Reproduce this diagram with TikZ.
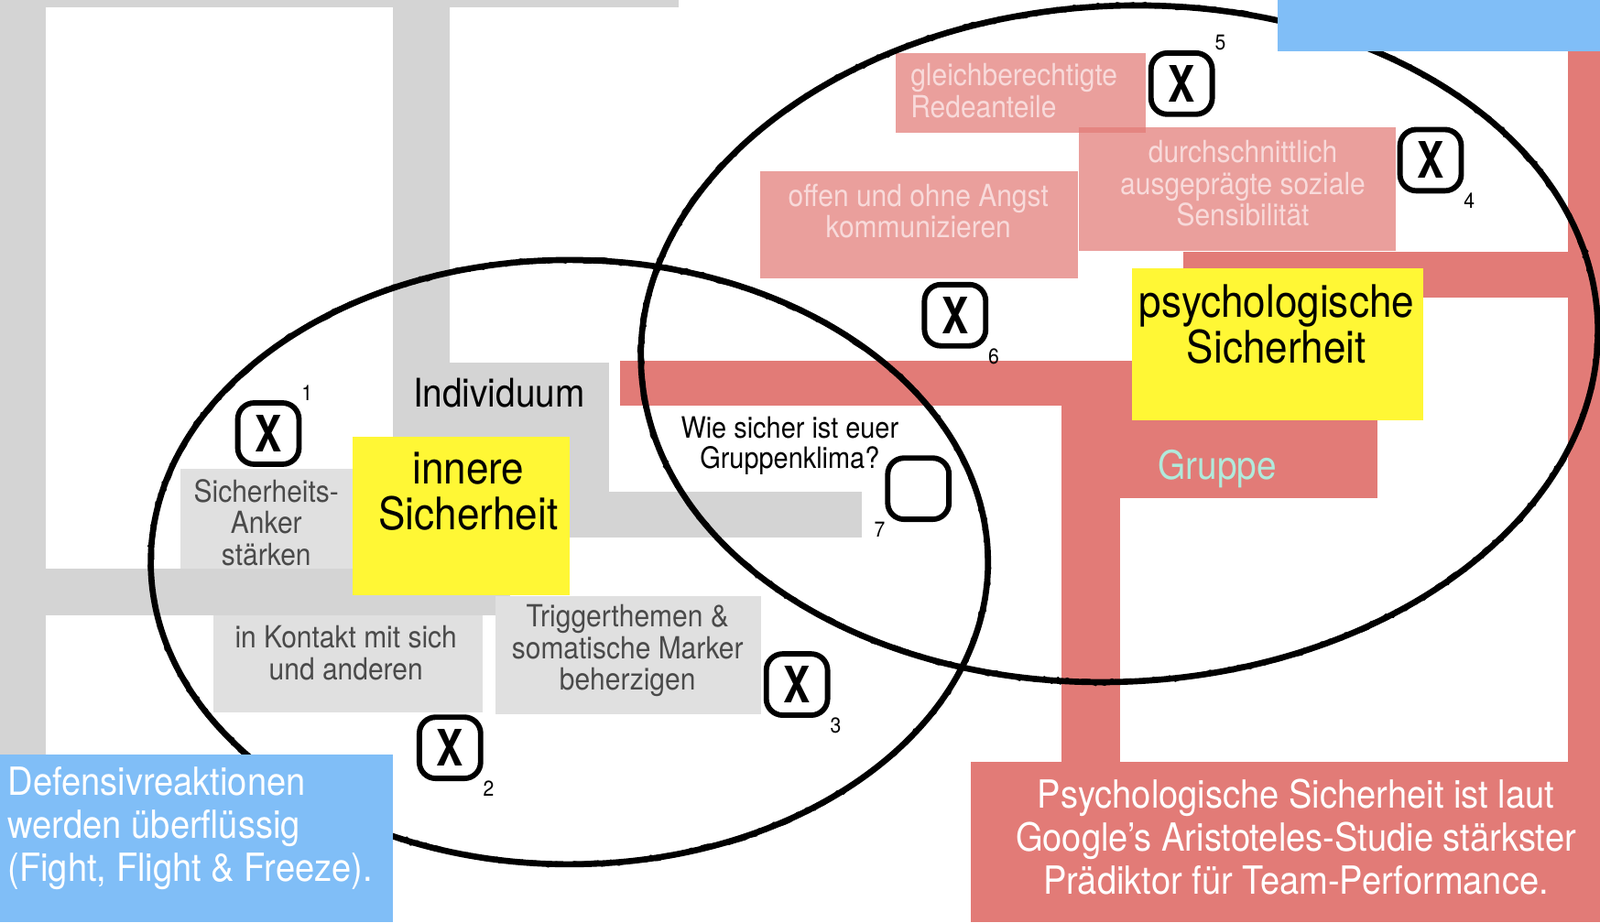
\documentclass[tikz,border=0pt]{standalone}
\usepackage{fontspec}
\setmainfont{TeX Gyre Heros}[FakeStretch=0.9]
\newfontfamily\chkfont{TeX Gyre Heros}[FakeStretch=0.8]
\usetikzlibrary{decorations.pathmorphing}
\definecolor{bargray}{HTML}{D4D4D4}
\definecolor{boxgray}{HTML}{E0E0E0}
\definecolor{txtgray}{HTML}{4A4A4A}
\definecolor{signal}{HTML}{FFF735}
\definecolor{grpred}{HTML}{E27B77}
\definecolor{pinktxt}{HTML}{F8DADA}
\definecolor{sky}{HTML}{80BEF7}
\definecolor{mint}{HTML}{B0EADB}

\begin{document}
\begin{tikzpicture}[x=0.01cm, y=-0.01cm, font=\fontsize{8.5}{8.8}\selectfont,
    small/.style={align=center, text=txtgray},
    soft/.style={align=center, text=pinktxt},
    big/.style={align=center, font=\fontsize{12.5}{12.8}\selectfont},
    note/.style={text=white, font=\fontsize{10.8}{12}\selectfont},
    chk/.style={draw, line width=1.5pt, rounded corners=1.6mm, minimum size=0.6cm,
      inner sep=0pt, font=\chkfont\bfseries\fontsize{14}{14}\selectfont},
    numlbl/.style={font=\fontsize{6}{6}\selectfont, inner sep=0.5pt},
    sketch/.style={line width=1pt, decorate,
      decoration={random steps, segment length=1.5pt, amplitude=0.55pt}}]
  \useasboundingbox (0,0) rectangle (1568,904);

  % gray frame: Individuum
  \fill[bargray] (0,0) rectangle (665,7);
  \fill[bargray] (0,0) rectangle (45,740);
  \fill[bargray] (385,0) rectangle (441,355);
  \fill[bargray] (385,355) rectangle (597,527);
  \fill[bargray] (597,482) rectangle (845,527);
  \fill[bargray] (45,557) rectangle (500,603);
  \fill[boxgray] (177,460) rectangle (346,557);
  \fill[boxgray] (209,603) rectangle (473,698);
  \fill[boxgray] (486,584) rectangle (746,700);

  % red frame: Gruppe
  \fill[grpred] (608,354) rectangle (1040,398);
  \fill[grpred] (1040,354) rectangle (1350,488);
  \fill[grpred] (1040,488) rectangle (1098,747);
  \fill[grpred] (951,747) rectangle (1568,904);
  \fill[grpred] (1537,50) rectangle (1568,747);
  \fill[grpred] (1160,247) rectangle (1537,292);
  \fill[grpred, fill opacity=0.73] (878,52) rectangle (1123,130);
  \fill[grpred, fill opacity=0.73] (1057,125) rectangle (1368,246);
  \fill[grpred, fill opacity=0.73] (745,168) rectangle (1056,273);

  \fill[signal] (346,428) rectangle (558,583);
  \fill[signal] (1109,263) rectangle (1395,412);

  \node[font=\fontsize{11}{12}\selectfont] (indiv) at (489,385) {Individuum};
  \node[big] (inner) at (459,482) {innere\\Sicherheit};
  \node[big] (psych) at (1251,318) {psychologische\\Sicherheit};
  \node[small] (anker) at (261,512) {Sicherheits-\\Anker\\stärken};
  \node[small] (kontakt) at (339,640) {in Kontakt mit sich\\und anderen};
  \node[small] (trigger) at (615,638) {Triggerthemen \&\\somatische Marker\\beherzigen};
  \node[align=center, font=\fontsize{8.2}{8.6}\selectfont] (klima) at (774,437) {Wie sicher ist euer\\Gruppenklima?};
  \node[soft, align=left, anchor=west] (rede) at (880,89) {gleichberechtigte\\Redeanteile};
  \node[soft] (offen) at (900,207) {offen und ohne Angst\\kommunizieren};
  \node[soft] (sensi) at (1218,180) {durchschnittlich\\ausgeprägte soziale\\Sensibilität};
  \node[text=mint, font=\fontsize{11}{12}\selectfont] (gruppe) at (1193,460) {Gruppe};
  \node[note, align=center] (google) at (1270,820)
    {Psychologische Sicherheit ist laut\\Google’s Aristoteles-Studie stärkster\\Prädiktor für Team-Performance.};

  % hand-drawn circles
  \draw[line width=1.7pt] (558,551) ellipse [x radius=4.1cm, y radius=2.96cm];
  \draw[sketch] (558,551) ellipse [x radius=4.1cm, y radius=2.96cm];
  \draw[line width=1.7pt, rotate around={3:(1097,337)}] (1097,337) ellipse [x radius=4.69cm, y radius=3.31cm];
  \draw[sketch, rotate around={3:(1097,337)}] (1097,337) ellipse [x radius=4.69cm, y radius=3.31cm];

  \fill[sky] (1252,0) rectangle (1568,50);
  \fill[sky] (0,740) rectangle (385,904);
  \node[note, align=left, anchor=west, inner sep=0pt] (defense) at (7,812)
    {Defensivreaktionen\\werden überflüssig\\(Fight, Flight \& Freeze).};

  \foreach \n/\cx/\cy/\sym/\side in {1/263/425/X/north east, 2/441/733/X/south east,
      3/781/671/X/south east, 4/1402/157/X/south east, 5/1158/82/X/north east,
      6/936/309/X/south east, 7/900/479//south west}
    \node[chk, fill=white, label={[numlbl, label distance=-1pt]\side:\n}] (box\n) at (\cx,\cy) {\sym};
\end{tikzpicture}
\end{document}
